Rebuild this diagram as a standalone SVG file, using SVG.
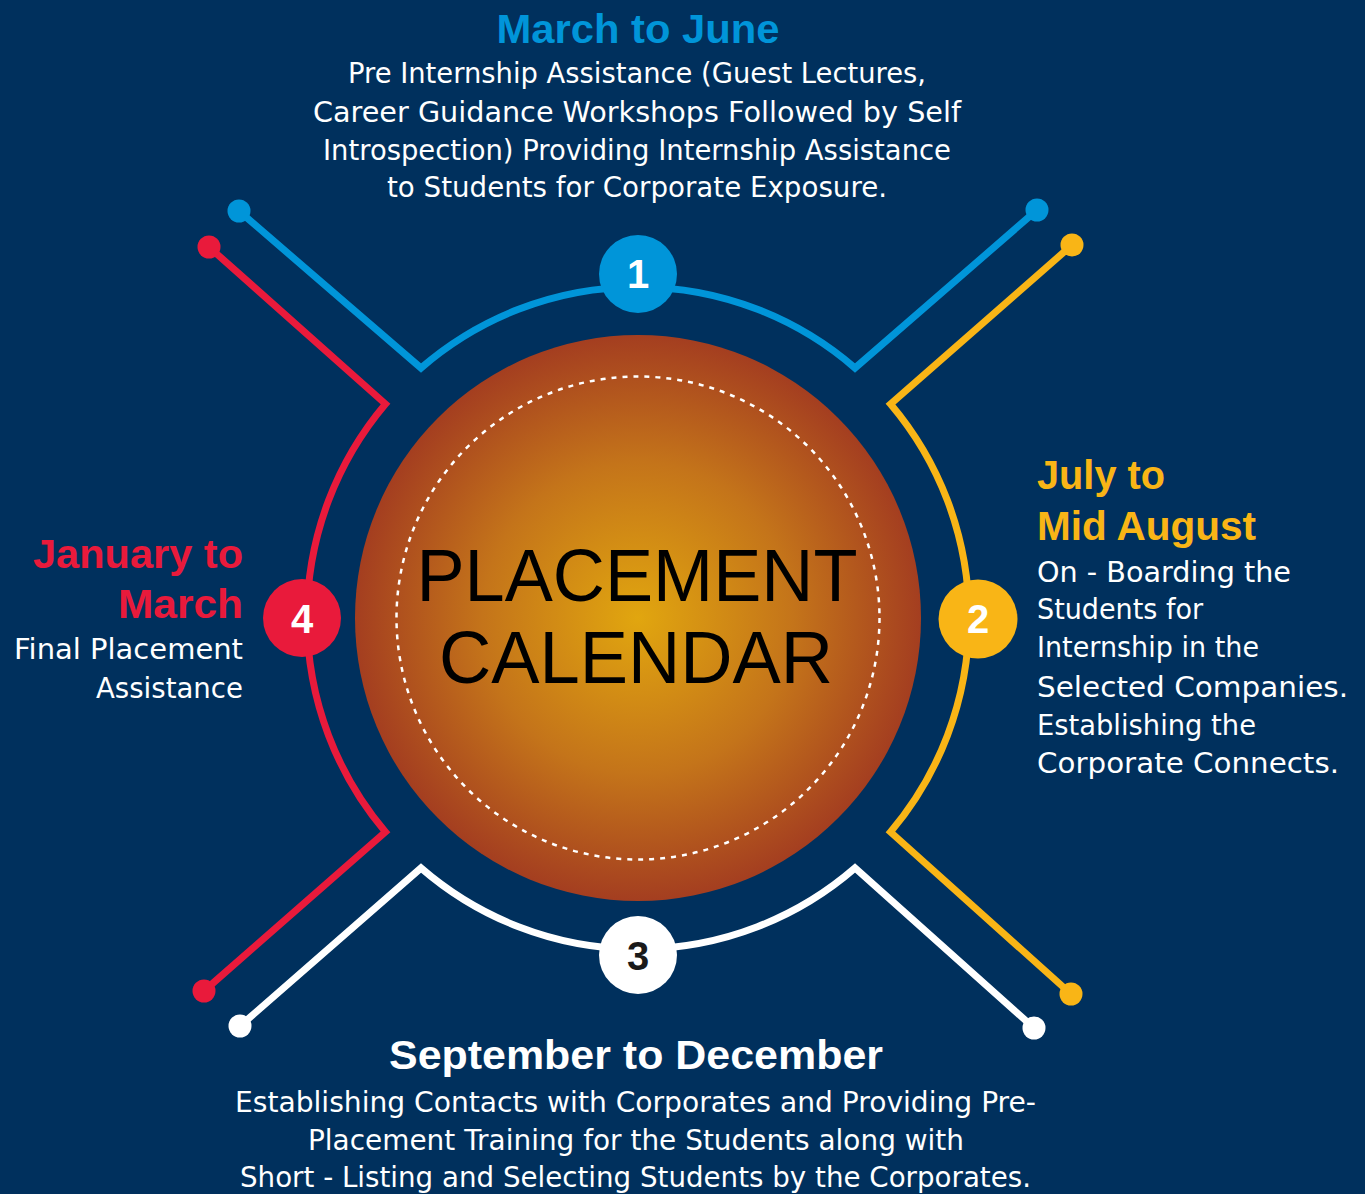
<svg xmlns="http://www.w3.org/2000/svg" width="1365" height="1194" viewBox="0 0 1365 1194">
<defs>
<radialGradient id="orb" cx="638" cy="618" r="283" gradientUnits="userSpaceOnUse">
<stop offset="0" stop-color="#e1a60f"/>
<stop offset="0.55" stop-color="#c4741a"/>
<stop offset="1" stop-color="#a43e20"/>
</radialGradient>
<style>
.bg{fill:#00305d}
.arm{fill:none;stroke-width:7;stroke-linejoin:miter;stroke-miterlimit:10}
.body{font-family:"DejaVu Sans","Liberation Sans",sans-serif;font-size:28.5px;fill:#ffffff}
.head{font-family:"Liberation Sans",Arial,sans-serif;font-weight:bold;font-size:41px}
.num{font-family:"Liberation Sans",Arial,sans-serif;font-weight:bold;font-size:40px;text-anchor:middle}
.title{font-family:"Liberation Sans",Arial,sans-serif;font-size:74px;fill:#000000;text-anchor:middle}
.blue{stroke:#0095d9}
.red{stroke:#e91a3b}
.yellow{stroke:#f9b516}
.white{stroke:#ffffff}
</style>
</defs>
<rect class="bg" x="0" y="0" width="1365" height="1194"/>

<g id="connectors">
<path class="arm blue" d="M239,211 L421,368 A331,331 0 0 1 855,368 L1037,210"/>
<path class="arm red" d="M209,247 L385.5,404 A331,331 0 0 0 385.5,832 L204,991"/>
<path class="arm yellow" d="M1072,245 L890.5,404 A331,331 0 0 1 890.5,832 L1071,994"/>
<path class="arm white" d="M240,1026 L421,868 A331,331 0 0 0 855,868 L1034,1028"/>
<circle cx="239" cy="211" r="11.5" fill="#0095d9"/>
<circle cx="1037" cy="210" r="11.5" fill="#0095d9"/>
<circle cx="209" cy="247" r="11.5" fill="#e91a3b"/>
<circle cx="204" cy="991" r="11.5" fill="#e91a3b"/>
<circle cx="1072" cy="245" r="11.5" fill="#f9b516"/>
<circle cx="1071" cy="994" r="11.5" fill="#f9b516"/>
<circle cx="240" cy="1026" r="11.5" fill="#ffffff"/>
<circle cx="1034" cy="1028" r="11.5" fill="#ffffff"/>
</g>

<g id="center">
<circle cx="638" cy="618" r="283" fill="url(#orb)"/>
<circle cx="638" cy="618" r="241.5" fill="none" stroke="#ffffff" stroke-width="2.5" stroke-dasharray="5 6"/>
<text class="title" x="637" y="601" textLength="441" lengthAdjust="spacingAndGlyphs">PLACEMENT</text>
<text class="title" x="636" y="683" textLength="394" lengthAdjust="spacingAndGlyphs">CALENDAR</text>
</g>

<g id="node1">
<circle cx="638" cy="274" r="39" fill="#0095d9"/>
<text class="num" x="638" y="288" fill="#ffffff">1</text>
<text class="head" x="638" y="43" fill="#0095d9" text-anchor="middle" textLength="283" lengthAdjust="spacingAndGlyphs">March to June</text>
<g class="body" text-anchor="middle">
<text x="637" y="83" textLength="578" lengthAdjust="spacingAndGlyphs">Pre Internship Assistance (Guest Lectures,</text>
<text x="637" y="122" textLength="648" lengthAdjust="spacingAndGlyphs">Career Guidance Workshops Followed by Self</text>
<text x="637" y="160" textLength="628" lengthAdjust="spacingAndGlyphs">Introspection) Providing Internship Assistance</text>
<text x="637" y="197" textLength="500" lengthAdjust="spacingAndGlyphs">to Students for Corporate Exposure.</text>
</g>
</g>

<g id="node2">
<circle cx="978" cy="619" r="39.5" fill="#f9b516"/>
<text class="num" x="978" y="633" fill="#ffffff">2</text>
<text class="head" x="1037" y="489" fill="#f9b516" textLength="128" lengthAdjust="spacingAndGlyphs">July to</text>
<text class="head" x="1037" y="540" fill="#f9b516" textLength="219" lengthAdjust="spacingAndGlyphs">Mid August</text>
<g class="body">
<text x="1037" y="582" textLength="254" lengthAdjust="spacingAndGlyphs">On - Boarding the</text>
<text x="1037" y="619" textLength="166" lengthAdjust="spacingAndGlyphs">Students for</text>
<text x="1037" y="657" textLength="222" lengthAdjust="spacingAndGlyphs">Internship in the</text>
<text x="1037" y="697" textLength="311" lengthAdjust="spacingAndGlyphs">Selected Companies.</text>
<text x="1037" y="735" textLength="219" lengthAdjust="spacingAndGlyphs">Establishing the</text>
<text x="1037" y="773" textLength="302" lengthAdjust="spacingAndGlyphs">Corporate Connects.</text>
</g>
</g>

<g id="node3">
<circle cx="638" cy="955" r="39" fill="#ffffff"/>
<text class="num" x="638" y="970" fill="#1a1a1a">3</text>
<text class="head" x="636" y="1069" fill="#ffffff" text-anchor="middle" textLength="494" lengthAdjust="spacingAndGlyphs">September to December</text>
<g class="body" text-anchor="middle">
<text x="635.5" y="1112" textLength="801" lengthAdjust="spacingAndGlyphs">Establishing Contacts with Corporates and Providing Pre-</text>
<text x="636" y="1150" textLength="656" lengthAdjust="spacingAndGlyphs">Placement Training for the Students along with</text>
<text x="635.5" y="1187" textLength="791" lengthAdjust="spacingAndGlyphs">Short - Listing and Selecting Students by the Corporates.</text>
</g>
</g>

<g id="node4">
<circle cx="302" cy="618" r="39" fill="#e91a3b"/>
<text class="num" x="302" y="633" fill="#ffffff">4</text>
<text class="head" x="243" y="568" fill="#e91a3b" text-anchor="end" textLength="210" lengthAdjust="spacingAndGlyphs">January to</text>
<text class="head" x="243" y="618" fill="#e91a3b" text-anchor="end" textLength="125" lengthAdjust="spacingAndGlyphs">March</text>
<g class="body" text-anchor="end">
<text x="243" y="659" textLength="229" lengthAdjust="spacingAndGlyphs">Final Placement</text>
<text x="243" y="698" textLength="147" lengthAdjust="spacingAndGlyphs">Assistance</text>
</g>
</g>
</svg>
